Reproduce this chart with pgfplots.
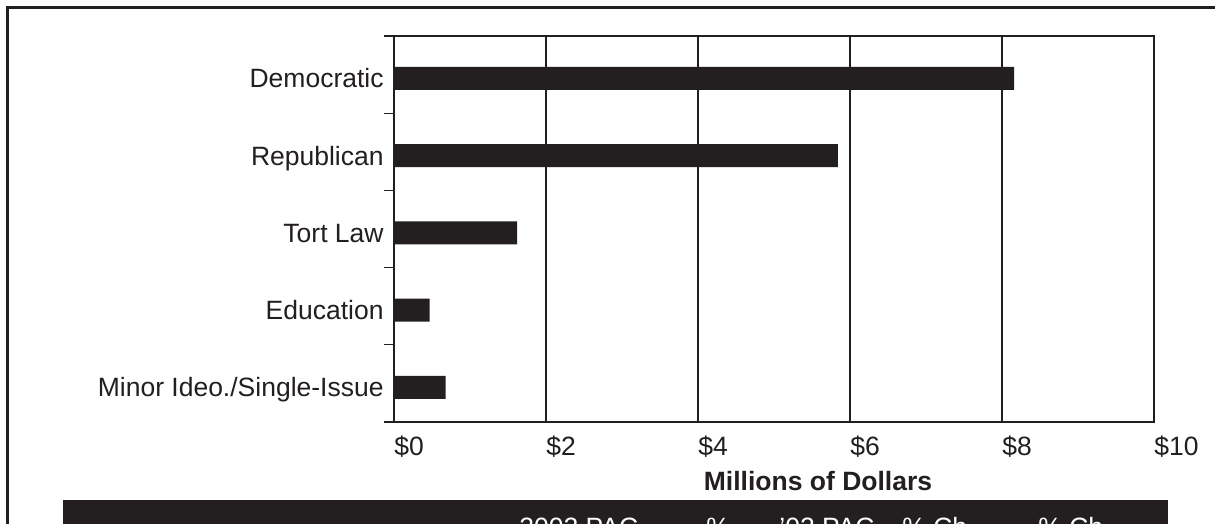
\documentclass[border=0pt]{standalone}
\usepackage{fontspec}
\setmainfont{Liberation Sans}
\usepackage{pgfplots}
\pgfplotsset{compat=1.18}
\definecolor{ink}{HTML}{231F20}
\newcommand{\fs}{\fontsize{13.25bp}{16bp}\selectfont}

\begin{document}
\begin{tikzpicture}
% page = 1215 x 524 px, 1 px = 0.5bp, origin top left
\path[clip] (0,0) rectangle (607.5bp,-262bp);
\begin{scope}[x=0.5bp,y=-0.5bp]
  \fill[white] (0,0) rectangle (1215,524);
  \draw[ink, line width=1.5bp] (8,560) -- (8,8) -- (1240,8);
  \coordinate (O) at (394,422);
\end{scope}

% bars sit a little below the middle of each band, as in the original
\begin{axis}[
    at={(O)}, anchor=south west,
    width=380bp, height=193bp, scale only axis,
    xbar, bar width=11.5bp,
    xmin=0, xmax=10, ymin=0.5, ymax=5.5,
    y dir=reverse,
    xtick={0,2,...,10},
    xticklabels={\$0,\$2,\$4,\$6,\$8,\$10},
    ytick={1.05,2.05,3.05,4.05,5.05},
    yticklabels={Democratic,Republican,Tort Law,Education,Minor Ideo./Single-Issue},
    minor ytick={0.5,1.5,...,5.5},
    tick pos=left, tick align=outside,
    major tick length=0pt, minor tick length=5bp,
    every tick/.style={ink, line width=0.65bp},
    minor tick style={ink, line width=0.65bp},
    xmajorgrids,
    major grid style={ink, line width=0.65bp},
    axis line style={ink, line width=0.8bp},
    tick label style={font=\fs, text=ink},
    xticklabel style={anchor=base west, inner sep=0pt, yshift=-16.5bp},
    yticklabel style={anchor=base east, inner sep=0pt, xshift=-5bp, yshift=-4.75bp},
]
\addplot[fill=ink, draw=none] coordinates {
    (8.16,1.05) (5.84,2.05) (1.62,3.05) (0.47,4.05) (0.68,5.05)
};
\end{axis}

\begin{scope}[x=0.5bp,y=-0.5bp]
  \node[anchor=base, inner sep=0pt, font=\fs\bfseries, text=ink] at (818,491) {Millions of Dollars};
  \fill[ink] (63,500) rectangle (1168,560);
  \begin{scope}[every node/.style={anchor=base west, inner sep=0pt, font=\fs, text=white}]
    \node at (519,537) {2002 PAC};
    \node at (706,537) {\%};
    \node at (779,537) {'02 PAC};
    \node at (902,537) {\% Ch};
    \node at (1038,537) {\% Ch};
  \end{scope}
\end{scope}
\end{tikzpicture}
\end{document}
